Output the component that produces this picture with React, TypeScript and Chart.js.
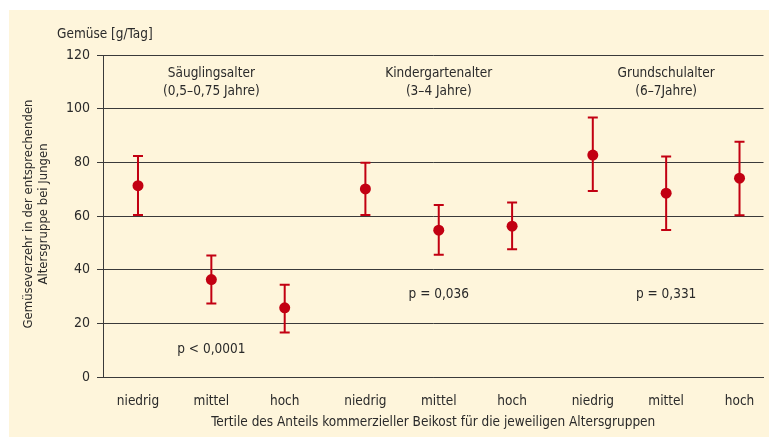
import React, { useEffect, useRef } from "react";
import { Chart, registerables } from "chart.js";

Chart.register(...registerables);

// ---- Data ----
const ageGroups = ["Säuglingsalter", "Kindergartenalter", "Grundschulalter"];
const ageRanges = ["(0,5–0,75 Jahre)", "(3–4 Jahre)", "(6–7Jahre)"];
const tertiles = ["niedrig", "mittel", "hoch"];
const means = [71.3, 36.3, 25.8, 70.1, 54.7, 56.2, 82.7, 68.5, 74.1];
const lower = [60.4, 27.4, 16.6, 60.4, 45.6, 47.6, 69.3, 54.8, 60.3];
const upper = [82.4, 45.3, 34.4, 79.8, 64.1, 65.0, 96.7, 82.2, 87.7];
const pValues = ["p < 0,0001", "p = 0,036", "p = 0,331"];
const yTicks = [0, 20, 40, 60, 80, 100, 120];

// ---- Layout / style ----
const GROUP_STEP = 3.1;
const P_LABEL_Y = [10.1, 30.6, 30.6];
const FONT = "'Liberation Sans Narrow', 'DejaVu Sans Condensed', 'Liberation Sans', sans-serif";
const RED = "#c20012";
const TEXT = "#2a2a2a";
const GRID = "#3a3a3a";
const BG = "#fef5db";

const positions = means.map((_, k) => Math.floor(k / 3) * GROUP_STEP + (k % 3));

export default function App() {
  const ref = useRef<HTMLCanvasElement | null>(null);

  useEffect(() => {
    document.body.style.margin = "0";
    const canvas = ref.current!;
    const bgPlugin = {
      id: "bg",
      beforeDraw(chart: any) {
        const { ctx, width, height } = chart;
        ctx.save();
        ctx.fillStyle = "#ffffff";
        ctx.fillRect(0, 0, width, height);
        ctx.fillStyle = BG;
        ctx.fillRect(9, 10, width - 9, height - 10);
        ctx.restore();
      },
    };
    const errPlugin = {
      id: "err",
      beforeDatasetsDraw(chart: any) {
        const { ctx } = chart;
        const xs = chart.scales.x;
        const ys = chart.scales.y;
        ctx.save();
        ctx.strokeStyle = RED;
        ctx.lineWidth = 2;
        positions.forEach((p, k) => {
          const x = xs.getPixelForValue(p);
          const y1 = ys.getPixelForValue(lower[k]);
          const y2 = ys.getPixelForValue(upper[k]);
          ctx.beginPath();
          ctx.moveTo(x, y1);
          ctx.lineTo(x, y2);
          ctx.moveTo(x - 5, y1);
          ctx.lineTo(x + 5, y1);
          ctx.moveTo(x - 5, y2);
          ctx.lineTo(x + 5, y2);
          ctx.stroke();
        });
        ctx.restore();
      },
    };
    const textPlugin = {
      id: "texts",
      afterDraw(chart: any) {
        const { ctx, chartArea } = chart;
        const xs = chart.scales.x;
        const ys = chart.scales.y;
        ctx.save();
        ctx.fillStyle = TEXT;
        ctx.font = `13.5px ${FONT}`;
        ctx.textBaseline = "middle";
        ctx.textAlign = "left";
        ctx.fillText("Gemüse [g/Tag]", 57, 34);
        ctx.textAlign = "center";
        ageGroups.forEach((g, i) => {
          const x = xs.getPixelForValue(i * GROUP_STEP + 1);
          ctx.fillText(g, x, chartArea.top + 18);
          ctx.fillText(ageRanges[i], x, chartArea.top + 36);
          ctx.fillText(pValues[i], x, ys.getPixelForValue(P_LABEL_Y[i]));
        });
        ctx.fillText(
          "Tertile des Anteils kommerzieller Beikost für die jeweiligen Altersgruppen",
          (chartArea.left + chartArea.right) / 2,
          422
        );
        ctx.font = `13px ${FONT}`;
        ctx.save();
        ctx.translate(29, 214);
        ctx.rotate(-Math.PI / 2);
        ctx.fillText("Gemüseverzehr in der entsprechenden", 0, 0);
        ctx.restore();
        ctx.save();
        ctx.translate(44, 214);
        ctx.rotate(-Math.PI / 2);
        ctx.fillText("Altersgruppe bei Jungen", 0, 0);
        ctx.restore();
        ctx.restore();
      },
    };

    const chart = new Chart(canvas, {
      type: "scatter",
      data: {
        datasets: [
          {
            data: positions.map((p, k) => ({ x: p, y: means[k] })),
            pointRadius: 5.5,
            pointHoverRadius: 5.5,
            pointBackgroundColor: RED,
            pointBorderWidth: 0,
            borderColor: RED,
          },
        ],
      },
      options: {
        animation: false,
        responsive: false,
        devicePixelRatio: 1,
        events: [],
        layout: { padding: { top: 55, right: 5, left: 0, bottom: 0 } },
        plugins: { legend: { display: false }, tooltip: { enabled: false } },
        scales: {
          x: {
            type: "linear",
            min: -0.477,
            max: 8.527,
            afterFit(s: any) {
              s.height = 60;
            },
            afterBuildTicks(s: any) {
              s.ticks = positions.map((v) => ({ value: v }));
            },
            grid: { display: false },
            border: { display: true, color: GRID, width: 1 },
            ticks: {
              autoSkip: false,
              maxRotation: 0,
              padding: 8,
              color: TEXT,
              font: { size: 13.5, family: FONT },
              callback: (_v: any, i: number) => tertiles[i % 3],
            },
          },
          y: {
            min: 0,
            max: 120,
            afterFit(s: any) {
              s.width = 103;
            },
            afterBuildTicks(s: any) {
              s.ticks = yTicks.map((v) => ({ value: v }));
            },
            grid: { color: GRID, lineWidth: 1, tickLength: 6, drawTicks: true },
            border: { display: true, color: GRID, width: 1 },
            ticks: {
              padding: 7,
              color: TEXT,
              font: { size: 14, family: FONT },
            },
          },
        },
      },
      plugins: [bgPlugin, errPlugin, textPlugin],
    } as any);
    return () => chart.destroy();
  }, []);

  return (
    <canvas
      ref={ref}
      width={769}
      height={437}
      style={{ display: "block", width: 769, height: 437 }}
    />
  );
}
